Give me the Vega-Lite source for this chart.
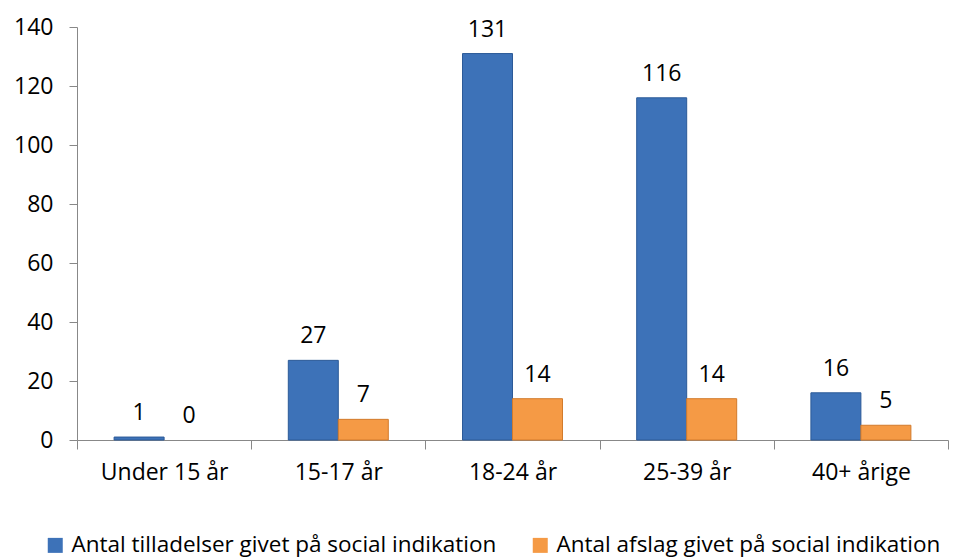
{
  "$schema": "https://vega.github.io/schema/vega-lite/v6.json",
  "width": 871,
  "height": 413,
  "autosize": "none",
  "padding": {"left": 77, "top": 27, "right": 17, "bottom": 120},
  "background": "white",
  "config": {"font": "Open Sans", "view": {"stroke": null}},
  "data": {
    "values": [
      {"age": "Under 15 år", "series": "Antal tilladelser givet på social indikation", "value": 1},
      {"age": "Under 15 år", "series": "Antal afslag givet på social indikation", "value": 0},
      {"age": "15-17 år", "series": "Antal tilladelser givet på social indikation", "value": 27},
      {"age": "15-17 år", "series": "Antal afslag givet på social indikation", "value": 7},
      {"age": "18-24 år", "series": "Antal tilladelser givet på social indikation", "value": 131},
      {"age": "18-24 år", "series": "Antal afslag givet på social indikation", "value": 14},
      {"age": "25-39 år", "series": "Antal tilladelser givet på social indikation", "value": 116},
      {"age": "25-39 år", "series": "Antal afslag givet på social indikation", "value": 14},
      {"age": "40+ årige", "series": "Antal tilladelser givet på social indikation", "value": 16},
      {"age": "40+ årige", "series": "Antal afslag givet på social indikation", "value": 5}
    ]
  },
  "encoding": {
    "x": {
      "field": "age",
      "type": "nominal",
      "sort": ["Under 15 år", "15-17 år", "18-24 år", "25-39 år", "40+ årige"],
      "scale": {"paddingInner": 0, "paddingOuter": 0},
      "axis": {
        "title": null,
        "labelAngle": 0,
        "tickBand": "extent",
        "tickSize": 9,
        "tickColor": "#888888",
        "domainColor": "#888888",
        "labelPadding": 12,
        "labelFontSize": 23,
        "labelColor": "#000000",
        "grid": false
      }
    },
    "xOffset": {
      "field": "series",
      "type": "nominal",
      "sort": ["Antal tilladelser givet på social indikation", "Antal afslag givet på social indikation"],
      "scale": {"paddingInner": 0, "paddingOuter": 0.742}
    },
    "y": {
      "field": "value",
      "type": "quantitative",
      "scale": {"domain": [0, 140], "nice": false},
      "axis": {
        "title": null,
        "values": [0, 20, 40, 60, 80, 100, 120, 140],
        "grid": false,
        "tickSize": 8,
        "tickColor": "#888888",
        "domainColor": "#888888",
        "labelPadding": 16,
        "labelFontSize": 23,
        "labelColor": "#000000"
      }
    }
  },
  "layer": [
    {
      "mark": {"type": "bar"},
      "encoding": {
        "color": {
          "field": "series",
          "type": "nominal",
          "sort": ["Antal tilladelser givet på social indikation", "Antal afslag givet på social indikation"],
          "scale": {
            "domain": ["Antal tilladelser givet på social indikation", "Antal afslag givet på social indikation"],
            "range": ["#3d72b8", "#f59a45"]
          },
          "legend": {
            "title": null,
            "orient": "none",
            "direction": "horizontal",
            "legendX": -33,
            "legendY": 507,
            "padding": 0,
            "symbolType": "square",
            "symbolSize": 225,
            "symbolStrokeWidth": 0,
            "labelFontSize": 22.5,
            "labelColor": "#000000",
            "labelOffset": 5,
            "columnPadding": 32,
            "labelLimit": 600
          }
        },
        "stroke": {
          "field": "series",
          "type": "nominal",
          "scale": {
            "domain": ["Antal tilladelser givet på social indikation", "Antal afslag givet på social indikation"],
            "range": ["#2c5a98", "#d27b2c"]
          },
          "legend": null
        },
        "strokeWidth": {"condition": {"test": "datum.value > 0", "value": 1}, "value": 0}
      }
    },
    {
      "mark": {"type": "text", "dy": -17, "baseline": "alphabetic", "fontSize": 23, "color": "#000000"},
      "encoding": {"text": {"field": "value", "type": "quantitative"}}
    }
  ]
}
